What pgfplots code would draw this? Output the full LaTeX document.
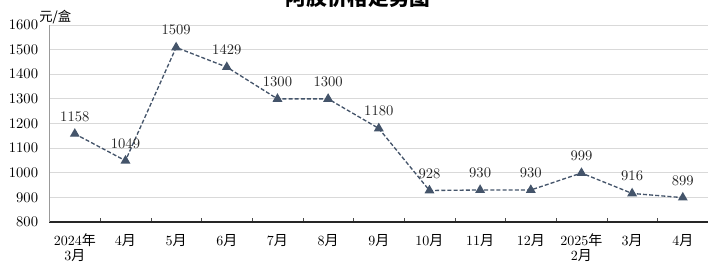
\documentclass[border=0pt]{standalone}
\usepackage{pgfplots}
\pgfplotsset{compat=1.18}
\usepackage{fontspec}
\newfontfamily\cjk{Noto Sans CJK SC}
\newcommand\yue{{\cjk 月}}
\newcommand\nian{{\cjk 年}}
\definecolor{lc}{HTML}{44546A}
\definecolor{gridc}{HTML}{D9D9D9}
\begin{document}
\begin{tikzpicture}[x=1pt,y=1pt]
\useasboundingbox (0,0) rectangle (531,196.5);
\begin{axis}[at={(37.1pt,30pt)}, anchor=south west, scale only axis,
  width=494pt, height=147.75pt,
  xmin=-0.5, xmax=12.5, ymin=800, ymax=1600,
  ytick={800,900,...,1600},
  xtick={0,...,12},
  xticklabels={{2024\nian\\3\yue},{4\yue},{5\yue},{6\yue},{7\yue},{8\yue},{9\yue},{10\yue},{11\yue},{12\yue},{2025\nian\\2\yue},{3\yue},{4\yue}},
  xticklabel style={align=center, font=\fontsize{10.5pt}{11pt}\selectfont, yshift=-5.5pt},
  yticklabel style={font=\fontsize{10.5pt}{12pt}\selectfont, xshift=-5pt},
  /pgf/number format/1000 sep={},
  major x tick style={draw=none},
  minor xtick={0.5,1.5,...,12.5},
  minor x tick style={black!70},
  minor tick length=3pt,
  tick align=inside,
  ytick style={draw=none},
  axis lines*=left,
  x axis line style={black!85, line width=0.8pt},
  y axis line style={black!40},
  ymajorgrids, grid style={gridc, line width=0.6pt},
  nodes near coords,
  every node near coord/.style={font=\fontsize{10.5pt}{12pt}\selectfont, black!85, yshift=5.5pt},
  clip=false,
]
\addplot[color=lc, dash pattern=on 3pt off 1.6pt, line width=1pt, mark=triangle*, mark size=3.3pt, mark options={solid, fill=lc}]
 coordinates {(0,1158) (1,1049) (2,1509) (3,1429) (4,1300) (5,1300) (6,1180) (7,928) (8,930) (9,930) (10,999) (11,916) (12,899)};
\end{axis}
\node[font=\fontsize{10pt}{11pt}\selectfont\cjk] at (41.5,183.5) {元/盒};
\node[font=\fontsize{15.5pt}{17pt}\selectfont\cjk\bfseries] at (268.5,198.4) {阿胶价格走势图};
\end{tikzpicture}
\end{document}
